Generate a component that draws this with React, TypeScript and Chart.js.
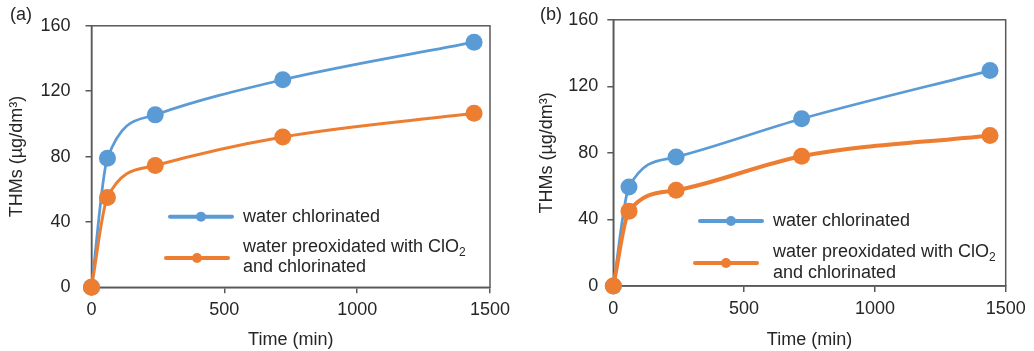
import React, { useEffect, useRef } from "react";
import { Chart, registerables } from "chart.js";
Chart.register(...registerables);

// ---- data ----
const timeMin = [0, 60, 240, 720, 1440];
const aChlorinated = [0, 79, 105.5, 127, 150];
const aPreoxidated = [0, 55, 74.5, 92, 106.5];
const bChlorinated = [0, 59.5, 77.5, 100.5, 129.5];
const bPreoxidated = [0, 45, 57.5, 78, 90.5];
const xTicks = [0, 500, 1000, 1500];
const yTicks = [0, 40, 80, 120, 160];
const seriesLabels = ["water chlorinated", "water preoxidated with ClO₂\nand chlorinated"];
const panelLabels = ["(a)", "(b)"];
const xTitle = "Time (min)";
const yTitle = "THMs (µg/dm³)";

const BLUE = "#5B9BD5";
const ORANGE = "#ED7D31";
const AXIS = "#595959";
const TEXT = "#262626";
const FONT = "Liberation Sans, Arial, sans-serif";
const W = 517;
const H = 351;

function drawRich(ctx: CanvasRenderingContext2D, text: string, x: number, y: number) {
  let cx = x;
  for (const ch of Array.from(text)) {
    if (ch === "₂") {
      ctx.font = `12px ${FONT}`;
      ctx.fillText("2", cx, y + 6);
      cx += ctx.measureText("2").width;
    } else {
      ctx.font = `18px ${FONT}`;
      ctx.fillText(ch, cx, y);
      cx += ctx.measureText(ch).width;
    }
  }
}

const decorPlugin = {
  id: "decor",
  afterDraw(chart: any, _args: any, opts: any) {
    const ctx = chart.ctx as CanvasRenderingContext2D;
    ctx.save();
    ctx.fillStyle = TEXT;
    ctx.textBaseline = "middle";
    ctx.textAlign = "left";
    ctx.font = `18px ${FONT}`;
    ctx.fillText(opts.panel, opts.panelX, opts.panelY);
    chart.data.datasets.forEach((ds: any, i: number) => {
      const L = opts.legend[i];
      ctx.strokeStyle = ds.borderColor;
      ctx.lineWidth = 4;
      ctx.lineCap = "round";
      ctx.beginPath();
      ctx.moveTo(L.x0, L.y);
      ctx.lineTo(L.x1, L.y);
      ctx.stroke();
      ctx.fillStyle = ds.borderColor;
      ctx.beginPath();
      ctx.arc((L.x0 + L.x1) / 2, L.y, 5, 0, Math.PI * 2);
      ctx.fill();
      ctx.fillStyle = TEXT;
      const lines = String(ds.label).split("\n");
      lines.forEach((ln: string, k: number) => drawRich(ctx, ln, L.tx, L.ty[k]));
    });
    ctx.restore();
  },
  beforeDatasetsDraw(chart: any) {
    const ctx = chart.ctx as CanvasRenderingContext2D;
    const ca = chart.chartArea;
    ctx.save();
    ctx.strokeStyle = AXIS;
    ctx.lineWidth = 1.5;
    ctx.strokeRect(ca.left, ca.top, ca.right - ca.left, ca.bottom - ca.top);
    ctx.restore();
  },
};

function makeConfig(p: any) {
  const mk = (label: string, vals: number[], color: string, lw: number, order: number) => ({
    label,
    data: timeMin.map((x, i) => ({ x, y: vals[i] })),
    borderColor: color,
    backgroundColor: color,
    pointBackgroundColor: color,
    pointBorderWidth: 0,
    pointRadius: 8.5,
    borderWidth: lw,
    cubicInterpolationMode: "monotone",
    fill: false,
    clip: false,
    order,
  });
  const fmt = (v: any) => String(v);
  return {
    type: "line",
    data: {
      datasets: [
        mk(seriesLabels[0], p.s1, BLUE, p.lw1, 1),
        mk(seriesLabels[1], p.s2, ORANGE, p.lw2, 0),
      ],
    },
    options: {
      animation: false,
      responsive: false,
      maintainAspectRatio: false,
      layout: { padding: { left: 0, top: p.top, right: W - p.right, bottom: 0 } },
      plugins: {
        legend: { display: false },
        tooltip: { enabled: false },
        decor: { panel: p.panel, panelX: p.panelX, panelY: 15, legend: p.legend },
      },
      scales: {
        x: {
          type: "linear",
          min: 0,
          max: 1500,
          afterBuildTicks: (s: any) => { s.ticks = xTicks.map((v) => ({ value: v })); },
          afterFit: (s: any) => { s.height = H - p.bottom; },
          ticks: { color: TEXT, font: { size: 18, family: FONT }, padding: 6, maxRotation: 0, callback: fmt },
          grid: { drawOnChartArea: false, drawTicks: true, tickLength: 6, color: AXIS, lineWidth: 1.5 },
          border: { display: true, color: AXIS, width: 1.5 },
          title: { display: true, text: xTitle, color: TEXT, font: { size: 18, family: FONT }, padding: { top: 0, bottom: 0 } },
        },
        y: {
          type: "linear",
          min: 0,
          max: 160,
          afterBuildTicks: (s: any) => { s.ticks = yTicks.map((v) => ({ value: v })); },
          afterFit: (s: any) => { s.width = p.left; },
          ticks: { color: TEXT, font: { size: 18, family: FONT }, padding: p.ypad, callback: fmt },
          grid: { drawOnChartArea: false, drawTicks: true, tickLength: 6, color: AXIS, lineWidth: 1.5 },
          border: { display: true, color: AXIS, width: 1.5 },
          title: { display: true, text: yTitle, color: TEXT, font: { size: 18, family: FONT }, padding: { top: p.ytitlePad, bottom: 0 } },
        },
      },
    },
    plugins: [decorPlugin],
  };
}

const panels = [
  {
    panel: panelLabels[0], panelX: 10, s1: aChlorinated, s2: aPreoxidated, lw1: 2.75, lw2: 3,
    left: 91.5, right: 490, top: 15.7, bottom: 287.3, ypad: 15, ytitlePad: 6,
    legend: [
      { x0: 170, x1: 232, y: 216.7, tx: 243, ty: [217] },
      { x0: 166, x1: 228, y: 258, tx: 243, ty: [247, 267] },
    ],
  },
  {
    panel: panelLabels[1], panelX: 23, s1: bChlorinated, s2: bPreoxidated, lw1: 2.75, lw2: 4,
    left: 96.3, right: 488.7, top: 15, bottom: 286, ypad: 9, ytitlePad: 19,
    legend: [
      { x0: 183, x1: 245, y: 221, tx: 256, ty: [221] },
      { x0: 178, x1: 240, y: 263, tx: 256, ty: [252, 273] },
    ],
  },
];

function Panel({ idx }: { idx: number }) {
  const ref = useRef<HTMLCanvasElement>(null);
  useEffect(() => {
    const chart = new Chart(ref.current as HTMLCanvasElement, makeConfig(panels[idx]) as any);
    return () => chart.destroy();
  }, [idx]);
  return (
    <canvas
      ref={ref}
      width={W}
      height={H}
      style={{ position: "absolute", left: idx * W, top: 0, width: W, height: H, display: "block" }}
    />
  );
}

export default function App() {
  return (
    <div style={{ position: "absolute", left: 0, top: 0, width: 1034, height: 351, background: "#fff" }}>
      <Panel idx={0} />
      <Panel idx={1} />
    </div>
  );
}
